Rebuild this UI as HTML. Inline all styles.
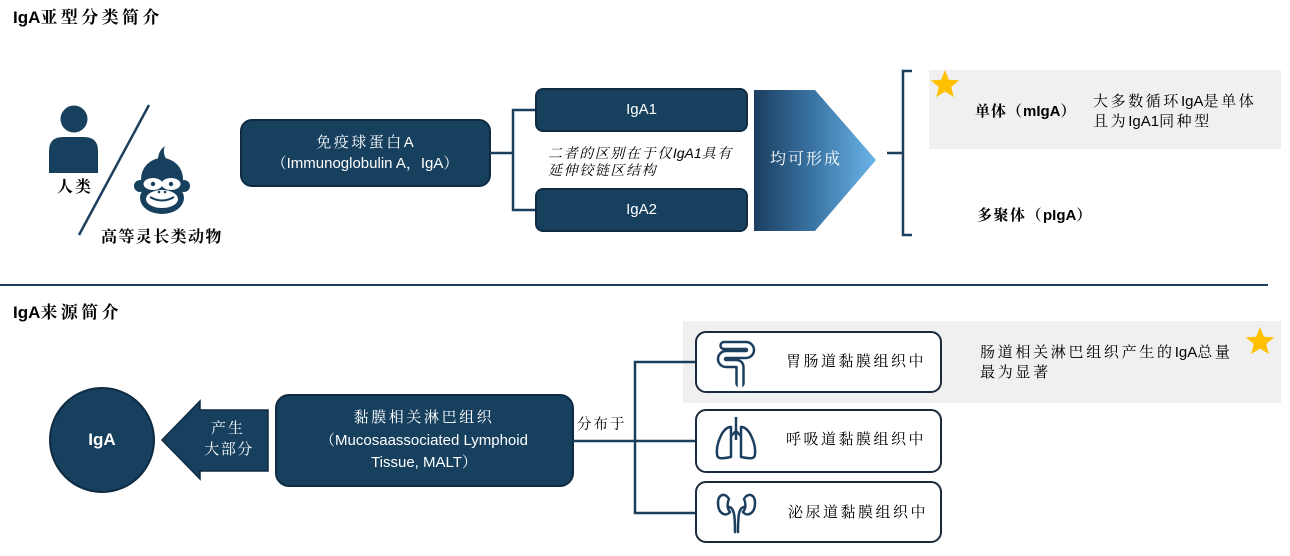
<!DOCTYPE html>
<html><head><meta charset="utf-8">
<style>
html,body{margin:0;padding:0;background:#fff;}
body{width:1290px;height:556px;position:relative;overflow:hidden;}
svg{position:absolute;left:0;top:0;}
.t{position:absolute;white-space:nowrap;font-family:"Liberation Sans","Noto Serif CJK SC",serif;color:#000;}
.w{color:#fff;}
.b{font-weight:bold;}
.l{letter-spacing:0;}
.c{text-align:center;}
</style></head><body>
<svg width="1290" height="556" viewBox="0 0 1290 556">
<defs>
<linearGradient id="g1" x1="0" y1="0" x2="1" y2="0">
<stop offset="0" stop-color="#1b3e60"/>
<stop offset="0.5" stop-color="#3b76a6"/>
<stop offset="1" stop-color="#6cb4e8"/>
</linearGradient>
</defs>
<!-- grey highlight areas -->
<rect x="929" y="70" width="352" height="79" fill="#f0f0f0"/>
<rect x="683" y="321" width="598" height="82" fill="#f0f0f0"/>

<!-- diagonal -->
<line x1="149" y1="105" x2="79" y2="235" stroke="#1d3f5f" stroke-width="2.5"/>
<!-- person -->
<circle cx="74" cy="119" r="13.5" fill="#17405f"/>
<path d="M49,173 V151 Q49,137 63,137 H84 Q98,137 98,151 V173 Z" fill="#17405f"/>
<!-- monkey -->
<g>
<path d="M158,160 Q158,151 165,146 Q162,153 167,160 Z" fill="#17405f"/>
<circle cx="162" cy="179" r="21" fill="#17405f"/>
<circle cx="140" cy="186" r="6" fill="#17405f"/>
<circle cx="184" cy="186" r="6" fill="#17405f"/>
<ellipse cx="162" cy="198" rx="22" ry="16" fill="#17405f"/>
<ellipse cx="153" cy="184" rx="9.5" ry="6" fill="#fff"/>
<ellipse cx="171" cy="184" rx="9.5" ry="6" fill="#fff"/>
<ellipse cx="162" cy="199" rx="16" ry="9" fill="#fff"/>
<circle cx="153" cy="184" r="2.2" fill="#17405f"/>
<circle cx="171" cy="184" r="2.2" fill="#17405f"/>
<circle cx="159" cy="192" r="1.3" fill="#17405f"/>
<circle cx="165" cy="192" r="1.3" fill="#17405f"/>
<path d="M150,197 Q162,204 174,197" stroke="#17405f" stroke-width="2" fill="none"/>
</g>

<!-- box 1 -->
<rect x="241" y="120" width="249" height="66" rx="11" fill="#17405f" stroke="#0f2b42" stroke-width="2"/>
<!-- connector -->
<path d="M490,153 H513 M535,110 H513 V210 H535" stroke="#1d3f5f" stroke-width="2.5" fill="none"/>
<rect x="536" y="89" width="211" height="42" rx="7" fill="#17405f" stroke="#0f2b42" stroke-width="2"/>
<rect x="536" y="189" width="211" height="42" rx="7" fill="#17405f" stroke="#0f2b42" stroke-width="2"/>
<!-- pentagon -->
<polygon points="754,90 815,90 876,160 815,231 754,231" fill="url(#g1)"/>
<!-- bracket -->
<path d="M887,153 H903 M912,71 H903 V235 H912" stroke="#1d3f5f" stroke-width="2.5" fill="none"/>
<!-- star1 -->
<path transform="translate(945,85)" d="M0,-15 L3.82,-5.26 L14.27,-4.64 L6.18,2.01 L8.82,12.14 L0,6.5 L-8.82,12.14 L-6.18,2.01 L-14.27,-4.64 L-3.82,-5.26 Z" fill="#ffc000"/>

<!-- divider -->
<line x1="0" y1="285" x2="1268" y2="285" stroke="#1d3f5f" stroke-width="2"/>

<!-- IgA circle -->
<circle cx="102" cy="440" r="52" fill="#17405f" stroke="#0f2b42" stroke-width="2"/>
<!-- left arrow -->
<polygon points="162,440 200,401 200,410 268,410 268,471 200,471 200,479" fill="#17405f" stroke="#0f2b42" stroke-width="1.5"/>
<!-- MALT box -->
<rect x="276" y="395" width="297" height="91" rx="13" fill="#17405f" stroke="#0f2b42" stroke-width="2"/>
<!-- connector 2 -->
<path d="M573,441 H695 M695,362 H635 V513 H695" stroke="#1d3f5f" stroke-width="2.5" fill="none"/>
<!-- three boxes -->
<rect x="696" y="332" width="245" height="60" rx="10" fill="#fff" stroke="#1a2a3a" stroke-width="2"/>
<rect x="696" y="410" width="245" height="62" rx="10" fill="#fff" stroke="#1a2a3a" stroke-width="2"/>
<rect x="696" y="482" width="245" height="60" rx="10" fill="#fff" stroke="#1a2a3a" stroke-width="2"/>
<!-- intestine icon -->
<path d="M724,345.5 H746 A4.5,4.5 0 0 1 746,354.5 H726 A4.5,4.5 0 0 0 726,363.5 H736 Q740,363.5 740,367.5 V383" stroke="#1d3f5f" stroke-width="9.5" fill="none" stroke-linecap="round"/>
<path d="M724,345.5 H746 A4.5,4.5 0 0 1 746,354.5 H726 A4.5,4.5 0 0 0 726,363.5 H736 Q740,363.5 740,367.5 V386" stroke="#fff" stroke-width="4.5" fill="none" stroke-linecap="round"/>
<!-- lungs -->
<g stroke="#1d3f5f" stroke-width="2.5" fill="none" stroke-linejoin="round">
<path d="M736,417 V440 M736,431 L731,436 M736,431 L741,436"/>
<path d="M731,427 C722,427 716,445 717,454 C717,459 721,459 731,457 Z"/>
<path d="M741,427 C750,427 756,445 755,454 C755,459 751,459 741,457 Z"/>
</g>
<!-- kidneys -->
<g stroke="#1d3f5f" stroke-width="2.5" fill="none" stroke-linecap="round">
<path d="M729,499 C726,493 718,493 718,503 C718,514 726,517 730,512 C727,509 727,503 729,499 Z"/>
<path d="M744,499 C747,493 755,493 755,503 C755,514 747,517 743,512 C746,509 746,503 744,499 Z"/>
<path d="M729,507 C734,508 735,514 735,532"/>
<path d="M744,507 C739,508 738,514 738,532"/>
</g>
<!-- star2 -->
<path transform="translate(1260,342)" d="M0,-15 L3.82,-5.26 L14.27,-4.64 L6.18,2.01 L8.82,12.14 L0,6.5 L-8.82,12.14 L-6.18,2.01 L-14.27,-4.64 L-3.82,-5.26 Z" fill="#ffc000"/>
</svg>

<!-- Top section text -->
<div class="t b" style="left:13px;top:7px;font-size:17px;line-height:22px;letter-spacing:3.4px;"><span class="l">IgA</span>亚型分类简介</div>
<div class="t b c" style="left:45px;width:60px;top:177px;font-size:16px;line-height:22px;letter-spacing:2px;">人类</div>
<div class="t b" style="left:101px;top:227px;font-size:16px;line-height:22px;letter-spacing:1.4px;">高等灵长类动物</div>

<div class="t w c" style="left:240px;width:250px;top:132px;font-size:15px;line-height:22px;letter-spacing:2.5px;">免疫球蛋白<span class="l">A</span></div>
<div class="t w c" style="left:240px;width:250px;top:153px;font-size:15px;line-height:22px;">（Immunoglobulin A，IgA）</div>

<div class="t w c" style="left:536px;width:211px;top:99px;font-size:15px;line-height:22px;">IgA1</div>
<div class="t w c" style="left:536px;width:211px;top:199px;font-size:15px;line-height:22px;">IgA2</div>

<div class="t" style="left:548px;top:144px;font-size:14px;line-height:18px;letter-spacing:1.6px;font-style:italic;">二者的区别在于仅<span class="l">IgA1</span>具有</div>
<div class="t" style="left:548px;top:161px;font-size:14px;line-height:18px;letter-spacing:1.6px;font-style:italic;">延伸铰链区结构</div>

<div class="t w" style="left:770px;top:149px;font-size:16px;line-height:22px;letter-spacing:2px;">均可形成</div>

<div class="t b" style="left:975px;top:101px;font-size:15px;line-height:22px;letter-spacing:1px;">单体（<span class="l">mIgA</span>）</div>
<div class="t" style="left:1093px;top:91px;font-size:15px;line-height:22px;letter-spacing:2.6px;">大多数循环<span class="l">IgA</span>是单体</div>
<div class="t" style="left:1093px;top:111px;font-size:15px;line-height:22px;letter-spacing:2.6px;">且为<span class="l">IgA1</span>同种型</div>
<div class="t b" style="left:977px;top:205px;font-size:15px;line-height:22px;letter-spacing:1.5px;">多聚体（<span class="l">pIgA</span>）</div>

<!-- Bottom section text -->
<div class="t b" style="left:13px;top:302px;font-size:17px;line-height:22px;letter-spacing:3.4px;"><span class="l">IgA</span>来源简介</div>
<div class="t w b c" style="left:50px;width:104px;top:429px;font-size:17px;line-height:22px;">IgA</div>
<div class="t w c" style="left:200px;width:56px;top:418px;font-size:15px;line-height:22px;letter-spacing:2px;">产生</div>
<div class="t w c" style="left:199px;width:60px;top:439px;font-size:15px;line-height:22px;letter-spacing:1.5px;">大部分</div>

<div class="t w c" style="left:275px;width:298px;top:407px;font-size:15px;line-height:22px;letter-spacing:2.6px;">黏膜相关淋巴组织</div>
<div class="t w c" style="left:275px;width:298px;top:430px;font-size:15px;line-height:22px;">（Mucosaassociated Lymphoid</div>
<div class="t w c" style="left:275px;width:298px;top:452px;font-size:15px;line-height:22px;">Tissue, MALT）</div>

<div class="t" style="left:577px;top:414px;font-size:14.5px;line-height:22px;letter-spacing:2px;">分布于</div>

<div class="t" style="left:786px;top:351px;font-size:15px;line-height:22px;letter-spacing:2.5px;">胃肠道黏膜组织中</div>
<div class="t" style="left:786px;top:429px;font-size:15px;line-height:22px;letter-spacing:2.5px;">呼吸道黏膜组织中</div>
<div class="t" style="left:788px;top:502px;font-size:15px;line-height:22px;letter-spacing:2.5px;">泌尿道黏膜组织中</div>

<div class="t" style="left:980px;top:342px;font-size:15px;line-height:22px;letter-spacing:2.7px;">肠道相关淋巴组织产生的<span class="l">IgA</span>总量</div>
<div class="t" style="left:980px;top:362px;font-size:15px;line-height:22px;letter-spacing:2.7px;">最为显著</div>
</body></html>
